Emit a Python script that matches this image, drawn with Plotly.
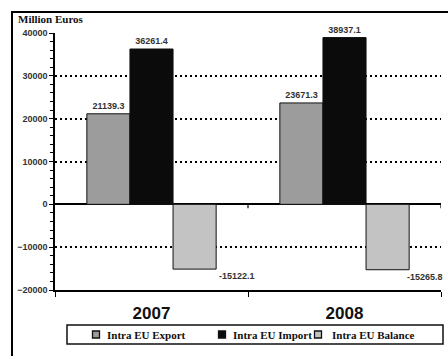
import plotly.graph_objects as go

years = ["2007", "2008"]
intra_export = [21139.3, 23671.3]
intra_import = [36261.4, 38937.1]
intra_balance = [-15122.1, -15265.8]

series_names = ["Intra EU Export", "Intra EU Import", "Intra EU Balance"]
series_colors = ["#9c9c9c", "#0b0b0b", "#c3c3c3"]

SANS = "Liberation Sans, Arial, sans-serif"
SERIF = "Liberation Serif, Times New Roman, serif"
LABEL_FONT = dict(family=SANS, size=9, color="#333333", weight="bold")

fig = go.Figure()
for name, vals, col, show_text in zip(
    series_names, [intra_export, intra_import, intra_balance], series_colors, [True, True, False]
):
    fig.add_trace(go.Bar(
        x=years, y=vals, name=name, showlegend=False,
        marker=dict(color=col, line=dict(color="#111111", width=1)),
        text=[f"{v:.1f}" for v in vals] if show_text else None,
        textposition="outside" if show_text else "none",
        textfont=LABEL_FONT,
        cliponaxis=False,
    ))

annotations = []
shapes = []

# balance labels sit just below and to the right of each negative bar
balance_label_shift = [65, 60]
for i, v in enumerate(intra_balance):
    annotations.append(dict(
        x=i, y=v, xref="x", yref="y", text=f"{v:.1f}", showarrow=False,
        xanchor="left", yanchor="top", xshift=balance_label_shift[i], yshift=0,
        font=LABEL_FONT,
    ))

annotations.append(dict(
    x=-0.101, y=1.054, xref="paper", yref="paper", text="<b>Million Euros</b>",
    showarrow=False, xanchor="left", yanchor="middle",
    font=dict(family=SERIF, size=11, color="#111111"),
))

PW, PH, ML, MB_TOP = 386.0, 257.0, 55.0, 290.0
def px_x(p):
    return (p - ML) / PW
def px_y(p):
    return (MB_TOP - p) / PH

# outer frame: top and left edges
shapes.append(dict(type="line", xref="paper", yref="paper",
                   x0=px_x(11), x1=px_x(448), y0=px_y(12), y1=px_y(12),
                   line=dict(color="black", width=2)))
shapes.append(dict(type="line", xref="paper", yref="paper",
                   x0=px_x(12), x1=px_x(12), y0=px_y(11), y1=px_y(356),
                   line=dict(color="black", width=2)))

# category boundary ticks on the zero line
for xb in [0.5, 1.5]:
    shapes.append(dict(type="line", xref="x", yref="y", x0=xb, x1=xb, y0=0, y1=-900,
                       line=dict(color="black", width=1.2)))

# legend strip below the axis: framed box, small swatches and bold serif labels
shapes.append(dict(type="rect", xref="paper", yref="paper",
                   x0=px_x(67), x1=px_x(443), y0=px_y(344), y1=px_y(325),
                   line=dict(color="#111111", width=1.5), fillcolor="white"))
swatch_x = [96, 222, 318]
label_x = [105, 231, 330]
for name, col, sx, lx in zip(series_names, series_colors, swatch_x, label_x):
    shapes.append(dict(type="rect", xref="paper", yref="paper",
                       x0=px_x(sx - 3.5), x1=px_x(sx + 3.5), y0=px_y(338), y1=px_y(331),
                       line=dict(color="#111111", width=1.3), fillcolor=col))
    annotations.append(dict(
        x=px_x(lx), y=px_y(334.5), xref="paper", yref="paper", text=f"<b>{name}</b>",
        showarrow=False, xanchor="left", yanchor="middle",
        font=dict(family=SERIF, size=11, color="#111111"),
    ))

fig.update_layout(
    width=448, height=356,
    margin=dict(l=55, r=7, t=33, b=66),
    paper_bgcolor="white", plot_bgcolor="white",
    barmode="group", bargap=0.33, bargroupgap=0,
    showlegend=False,
    annotations=annotations,
    shapes=shapes,
    xaxis=dict(
        type="category", range=[-0.5, 1.5], tickson="boundaries",
        ticks="outside", ticklen=5, tickcolor="black", tickwidth=1.2,
        showline=True, linecolor="black", linewidth=1.5, showgrid=False,
        tickfont=dict(family=SANS, size=17, color="#111111", weight="bold"),
        ticklabelstandoff=7,
    ),
    yaxis=dict(
        range=[-20000, 40000], dtick=10000, tick0=0, tickformat="d",
        ticks="outside", ticklen=4, tickcolor="black", tickwidth=1.2,
        showline=True, linecolor="black", linewidth=1.5,
        showgrid=True, gridcolor="black", gridwidth=1.5, griddash="2px,3px",
        zeroline=True, zerolinecolor="black", zerolinewidth=1.5,
        tickfont=LABEL_FONT,
        minor=dict(dtick=2000, ticks="outside", ticklen=3, tickcolor="black", showgrid=False),
    ),
)

fig.write_html("out.html", config={"displayModeBar": False})
